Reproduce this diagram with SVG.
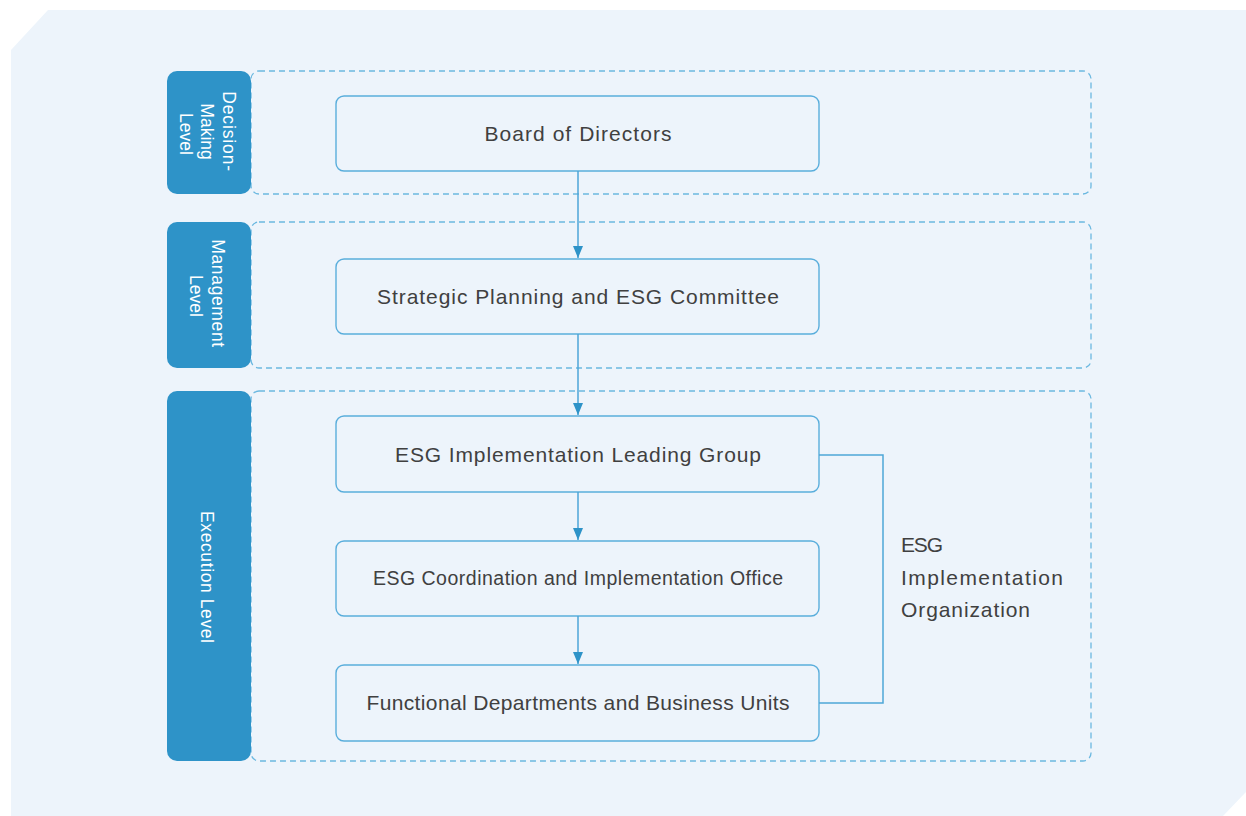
<svg xmlns="http://www.w3.org/2000/svg" width="1246" height="816" viewBox="0 0 1246 816">
<defs>
<style>
.tab{fill:#2E93C8;}
.zone{fill:none;stroke:#6BB8E0;stroke-width:1.3;stroke-dasharray:6 4;}
.node{fill:#EDF4FB;stroke:#5AAEDC;stroke-width:1.4;}
.conn{fill:none;stroke:#4DA6D8;stroke-width:1.5;}
.ntext{font-family:"Liberation Sans",Arial,sans-serif;font-size:21px;fill:#404040;text-anchor:middle;}
.ltext{font-family:"Liberation Sans",Arial,sans-serif;font-size:21px;fill:#404040;}
.ttext{font-family:"Liberation Sans",Arial,sans-serif;font-size:17.5px;fill:#FFFFFF;text-anchor:middle;}
</style>
<marker id="arr" viewBox="0 0 12 10" refX="12" refY="5" markerWidth="12" markerHeight="10" markerUnits="userSpaceOnUse" orient="auto">
<path d="M0,0 L12,5 L0,10 Z" fill="#2E93C8"/>
</marker>
</defs>
<rect width="1246" height="816" fill="#FFFFFF"/>
<path d="M48,10 L1246,10 L1246,792 L1223,816 L11,816 L11,50 Z" fill="#EDF4FB"/>

<g id="level-decision">
<rect class="zone" x="251" y="71" width="840" height="123" rx="8"/>
<rect class="tab" x="167" y="71" width="84" height="123" rx="10"/>
<text class="ttext" transform="translate(207,134) rotate(90)">
<tspan x="0" y="-15.5" textLength="80">Decision-</tspan>
<tspan x="0" y="6">Making</tspan>
<tspan x="0" y="27.5">Level</tspan>
</text>
</g>

<g id="level-management">
<rect class="zone" x="251" y="222" width="840" height="146" rx="8"/>
<rect class="tab" x="167" y="222" width="84" height="146" rx="10"/>
<text class="ttext" transform="translate(207,296) rotate(90)">
<tspan x="0" y="-5" textLength="108">Management</tspan>
<tspan x="0" y="17">Level</tspan>
</text>
</g>

<g id="level-execution">
<rect class="zone" x="251" y="391" width="840" height="370" rx="8"/>
<rect class="tab" x="167" y="391" width="84" height="370" rx="10"/>
<text class="ttext" transform="translate(207,577) rotate(90)" x="0" y="6" textLength="132">Execution Level</text>
</g>

<g id="node-board">
<rect class="node" x="336" y="96" width="483" height="75" rx="8"/>
<text class="ntext" x="578" y="140.5" textLength="187">Board of Directors</text>
</g>
<g id="node-strategic">
<rect class="node" x="336" y="259" width="483" height="75" rx="8"/>
<text class="ntext" x="578" y="303.5" textLength="402">Strategic Planning and ESG Committee</text>
</g>
<g id="node-leading">
<rect class="node" x="336" y="416" width="483" height="76" rx="8"/>
<text class="ntext" x="578" y="461.5" textLength="366">ESG Implementation Leading Group</text>
</g>
<g id="node-office">
<rect class="node" x="336" y="541" width="483" height="75" rx="8"/>
<text class="ntext" x="578" y="585" style="font-size:19.5px" textLength="410">ESG Coordination and Implementation Office</text>
</g>
<g id="node-functional">
<rect class="node" x="336" y="665" width="483" height="76" rx="8"/>
<text class="ntext" x="578" y="709.5" textLength="423">Functional Departments and Business Units</text>
</g>

<g id="connectors">
<line class="conn" x1="578" y1="171" x2="578" y2="258" marker-end="url(#arr)"/>
<line class="conn" x1="578" y1="334" x2="578" y2="415" marker-end="url(#arr)"/>
<line class="conn" x1="578" y1="492" x2="578" y2="540" marker-end="url(#arr)"/>
<line class="conn" x1="578" y1="616" x2="578" y2="664" marker-end="url(#arr)"/>
<polyline class="conn" points="819,455 883,455 883,703 819,703"/>
</g>

<g id="label-org">
<text class="ltext" x="901" y="551.5" textLength="42">ESG</text>
<text class="ltext" x="901" y="584.5" textLength="162">Implementation</text>
<text class="ltext" x="901" y="616.5" textLength="129">Organization</text>
</g>
</svg>
